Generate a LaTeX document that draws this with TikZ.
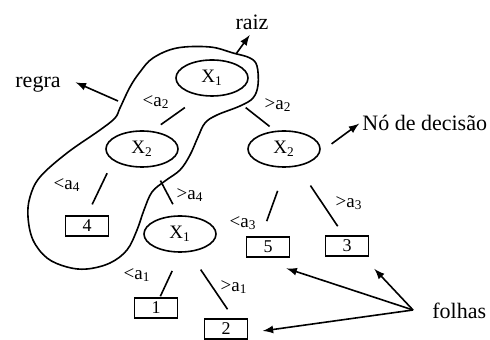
\documentclass[tikz,border=0pt]{standalone}
\usepackage{fontspec}
\setmainfont{Liberation Serif}
\usetikzlibrary{shapes.geometric, arrows}

\tikzset{
  test/.style={ellipse, draw, line width=0.8pt, minimum width=36pt, minimum height=18pt, inner sep=0pt, font=\fontsize{9.5}{11}\selectfont},
  leaf/.style={rectangle, draw, line width=0.8pt, minimum width=21.5pt, minimum height=10pt, inner sep=0pt, font=\fontsize{9}{10}\selectfont},
  cond/.style={inner sep=0pt, font=\fontsize{9.5}{11}\selectfont},
  note/.style={inner sep=1pt, font=\fontsize{11}{13}\selectfont},
  branch/.style={line width=0.8pt},
  pointer/.style={-latex, line width=0.8pt},
}

\begin{document}
\begin{tikzpicture}[x=0.5pt, y=-0.5pt]
  \useasboundingbox (0,0) rectangle (490,340);

  % region of the rule
  \draw[line width=0.8pt] plot[smooth cycle, tension=0.6] coordinates {
    (153,58) (177,48) (210,47) (233,53) (250,58) (257,66) (258,85) (253,98)
    (240,106) (217,115) (205,123) (198,137) (190,155) (180,170) (165,181)
    (152,192) (144,210) (137,230) (127,250) (110,263) (87,269) (67,267)
    (47,258) (33,240) (28,217) (30,197) (40,177) (67,153) (100,130)
    (115,118) (120,108) (130,87) (140,72)};
  \coordinate (raizfoot) at (236,54);
  \coordinate (regrafoot) at (118,101);
  \coordinate (fork) at (413,310);

  % tests
  \node[test] (root) at (212,78) {X\textsubscript{1}};
  \node[test] (x2l) at (142,149) {X\textsubscript{2}};
  \node[test] (x2r) at (284,149) {X\textsubscript{2}};
  \node[test] (x1b) at (180,234) {X\textsubscript{1}};

  % leaves
  \node[leaf] (box4) at (87,226) {4};
  \node[leaf] (box1) at (156,308) {1};
  \node[leaf] (box2) at (226,329) {2};
  \node[leaf] (box5) at (268,247) {5};
  \node[leaf] (box3) at (347,246) {3};

  % branches
  \draw[branch, shorten <=10pt, shorten >=5.4pt] (root.-121) -- (x2l.61);
  \draw[branch, shorten <=10.5pt, shorten >=3.5pt] (root.-44) -- (x2r.116);
  \draw[branch, shorten <=7pt, shorten >=6pt] (x2l.-158) -- (box4.north);
  \draw[branch, shorten <=7.75pt, shorten >=6.2pt] (x2l.-58) -- (x1b.94);
  \draw[branch, shorten <=10pt, shorten >=0.5pt] (x1b.-88) -- (box1.70);
  \draw[branch, shorten <=10.5pt, shorten >=5.4pt] (x1b.-64) -- (box2.55);
  \draw[branch, shorten <=12.25pt, shorten >=8pt] (x2r.-84) -- (box5.122);
  \draw[branch, shorten <=11.5pt, shorten >=5.4pt] (x2r.-52) -- (box3.107);

  \node[cond] (c1) at (156,102) {<a\textsubscript{2}};
  \node[cond] (c2) at (278,105) {>a\textsubscript{2}};
  \node[cond] (c3) at (67,185) {<a\textsubscript{4}};
  \node[cond] (c4) at (190,195) {>a\textsubscript{4}};
  \node[cond] (c5) at (137,275) {<a\textsubscript{1}};
  \node[cond] (c6) at (234,287) {>a\textsubscript{1}};
  \node[cond] (c7) at (243,223) {<a\textsubscript{3}};
  \node[cond] (c8) at (349,203) {>a\textsubscript{3}};

  % notes
  \node[note] (raiz) at (252,22) {raiz};
  \node[note] (regra) at (38,84) {regra};
  \node[note, anchor=west] (decision) at (360,123) {Nó de decisão};
  \node[note, anchor=west] (folhas) at (430,311) {folhas};

  \draw[pointer, shorten >=2pt] (raizfoot) -- (raiz.south);
  \draw[pointer, shorten >=6.9pt] (regrafoot) -- (regra.16);
  \draw[pointer, shorten <=7pt, shorten >=0.5pt] (x2r.-5) -- (decision.west);
  \draw[pointer, shorten >=17pt] (fork) -- (box5.-142);
  \draw[pointer, shorten >=8.3pt] (fork) -- (box3.-34);
  \draw[pointer, shorten >=7.3pt] (fork) -- (box2.-10);
\end{tikzpicture}
\end{document}
